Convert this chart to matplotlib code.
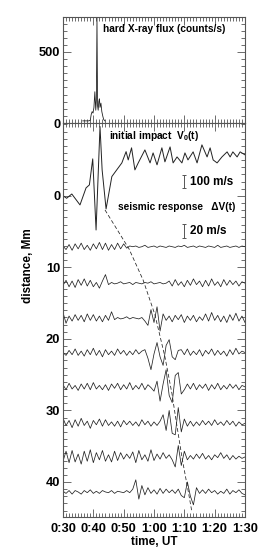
import matplotlib
matplotlib.use('Agg')
import matplotlib.pyplot as plt
import numpy as np
from matplotlib.ticker import MultipleLocator

# data #
########

# hard X-ray flux, counts/s
hxr_t = [36.5, 37.0, 37.5, 38.0, 38.5, 39.0, 39.3, 39.6, 39.9, 40.2, 40.5, 40.8,
         41.0, 41.2, 41.4, 41.6, 41.8, 42.0, 42.2, 42.5, 42.8, 43.1, 43.4, 43.8]
hxr_flux = [15, 15, 15, 15, 15, 20, 60, 80, 70, 110, 220, 90,
            160, 740, 120, 90, 150, 170, 110, 140, 80, 50, 25, 15]

# initial impact V0(t), m/s
v0_t = [30.1, 31.2, 32.9, 35.6, 37.6, 38.7, 39.8, 40.9, 42.2, 42.9, 44.2, 46.1,
        47.7, 49.4, 50.8, 51.5, 52.6, 53.7, 54.8, 57.0, 58.7, 59.7, 61.0, 62.6,
        63.6, 65.3, 66.3, 67.6, 69.2, 70.2, 71.2, 72.9, 74.2, 75.8, 77.5, 78.5,
        79.5, 80.8, 82.4, 84.1, 85.1, 86.0, 87.4, 88.4, 90.0]
v0_vel = [0, -18, 15, -69, 62, 85, 285, -262, 534, 200, -100, 149,
          200, 254, 341, 277, 370, 200, 254, 354, 254, 331, 239, 370,
          262, 377, 254, 300, 254, 331, 277, 339, 254, 393, 300, 370,
          277, 254, 300, 339, 300, 339, 300, 339, 316]

# seismic response dV(t), m/s, one sample per minute from 0:30
trace_dist = [7.1, 12.2, 17.1, 21.9, 26.7, 31.8, 36.5, 41.4]
dv1 = [1, -4, 3, -5, 4, -3, 5, -4, 2, -5, 4, -3, 6, -4, 5, -5, 3, -4, 5, -3, 4, -2, 1,
       0, 1, -1, 0, 2, -1, 0, 1, -1, 1, 0, -1, 1, 0, -1, 1, 0, 2, -1, 0,
       1, -1, 1, 0, -1, 1, 0, -1, 2, -1, 0, 1, -1, 0, 1, -1, 1, 0]
dv2 = [-3, 4, -5, 3, -6, 5, -3, 6, -4, 4, -5, 1,
       -7, 3, 12, -2,
       1, -1, 0, 2, -1, 0, 1, -2, 1, 0, -1, 1, 0, 2, -1, 0, 1, -1, 0,
       3, -4, 5, -3, 2, -5, 4, -3, 6, -2, 3, -5, 4, -4, 6, -3, 2, -5, 5, -3,
       4, -2, 3, -4, 2, 0]
dv3 = [8, -7, 3, -4, 5, -3, 4, -5, 6, -3, 5, -4, 3, -5, 4, -3, 9,
       -2, 1, -1, 0, 2, -1, 1, 0, -1, 1,
       -4, -10, 12, -6, 16, -18, 6, -3,
       3, -5, 4, -2, 5, -6, 3, -3, 4, -5, 2, -3, 6, -4, 8, -3, 4, -5, 3, -6,
       5, -3, 7, -4, 3, -6]
dv4 = [0, -4, 3, -3, 5, -4, 2, -5, 4, -3, 6, -4, 3, -6, 4, -3, 2, -4, 5, -2,
       3, -4, 2, -3, 4, -2, 2,
       4, -8, -24, -2, 14, -6, -18, 10, 18, -6, -10, 3,
       4, -3, 5, -4, 2, -3, 4, -5, 3, -2, 5, -4, 3, -3, 2, -5, 4, -3, 6, -2,
       2, 0]
dv5 = [3, -4, 5, -3, 2, -5, 4, -3, 5, -4, 6, -3, 2, -4, 3, -5, 4, -2, 5, -4,
       3, -3, 6, -4, 2, -3, 5, -4, 3, -1,
       -6, 8, -20, 4, 24, -12, -22, 16, 20, -10, -4,
       4, -3, 5, -4, 3, -2, 4, -5, 3, -3, 5, -4, 2, -3, 4, -2, 3, -4, 2, 0]
dv6 = [7, -3, 4, -6, 5, -4, 7, -3, 3, -7, 4, -2, 6, -4, 5, -3, 2, -4, 3, -5,
       4, -2, 3, -3, 2, -4, 5, -2, 3, -4, 2, -3, 3,
       12, -10, 18, -14, -16, 22, -12, 6, -4,
       3, -4, 2, -3, 4, -2, 3, -3, 5, -2, 2, -3, 4, -2, 3, -4, 2, -2, 0]
dv7 = [-6, 8, -8, 9, -7, 4, -10, 8, -6, 10, -8, 6, -4, 9, -6, 3, -7, 8, -5, 6,
       -3, 4, -2, 7, -8, 9, -4, 3, -6, 10, -5, 4, -3, 6, -2, 3, -4,
       -14, 16, -12, 8, -4, 2,
       -3, 4, -2, 5, -3, 2, -4, 3, -1, 6, -2, 3, -4, 2, -3, 1, -2, 0]
dv8 = [1, -2, 2, -3, 2, 0, -3, 2, -1, 3, -2, 1, -2, 2, 0, -1, 2, -2, 1, 0,
       -1, 2, -1,
       4, 17, -10, 9, -4, 6, -2, 3,
       -3, 5, -2, 4, -1, 3, -2, 4, -5, -8, 14, -6, -18, 6, -2,
       3, -2, 4, -1, 2, -3, 1, -2, 4, -3, 2, -1, 3, -2, -4]
traces = [dv1, dv2, dv3, dv4, dv5, dv6, dv7, dv8]

# travel-time curve (time in min, distance in Mm)
tt_t = [43.85, 51.76, 56.4, 60.3, 63.6, 65.9, 67.5, 69.4, 71.2, 72.5]
tt_d = [1.96, 7.4, 11.75, 16.6, 22.5, 27.6, 32.0, 37.0, 41.1, 44.2]

tick_pos = [30, 40, 50, 60, 70, 80, 90]
tick_lab = ['0:30', '0:40', '0:50', '1:00', '1:10', '1:20', '1:30']

# scales: Mm of plot per m/s
v0_scale = 1.0 / 55.0
dv_scale = 1.0 / 10.0

# style #
#########

plt.rcParams['font.family'] = ['Liberation Sans', 'DejaVu Sans']
plt.rcParams['font.weight'] = 'bold'
plt.rcParams['mathtext.fontset'] = 'custom'
plt.rcParams['mathtext.rm'] = 'Liberation Sans:bold'
plt.rcParams['mathtext.it'] = 'Liberation Sans:bold'
plt.rcParams['mathtext.bf'] = 'Liberation Sans:bold'

axcol = '#555555'
lcol = '#222222'
fs_tick = 9.3
fs_lab = 8.5
fs_note = 7.3

fig = plt.figure(figsize=(2.77, 5.57), dpi=100)
W, H = 277.0, 557.0
x0, x1 = 63 / W, 245 / W
ax1 = fig.add_axes([x0, 1 - 123 / H, x1 - x0, (123 - 17) / H])
ax2 = fig.add_axes([x0, 1 - 517 / H, x1 - x0, (517 - 123) / H])


def style_axis(ax):
    for s in ax.spines.values():
        s.set_color(axcol)
        s.set_linewidth(0.8)
    ax.tick_params(which='both', direction='in', top=True, right=True,
                   color=axcol, width=0.6, labelsize=fs_tick)
    ax.tick_params(which='major', length=6)
    ax.tick_params(which='minor', length=3)
    ax.tick_params(axis='y', pad=2)
    ax.tick_params(axis='x', pad=4)
    ax.xaxis.set_minor_locator(MultipleLocator(1))
    ax.set_xlim(30, 90)


# top panel: hard X-ray flux
style_axis(ax1)
ax1.plot(hxr_t, hxr_flux, color=lcol, lw=0.6)
ax1.set_ylim(0, 746)
ax1.set_yticks([0, 500])
ax1.yaxis.set_minor_locator(MultipleLocator(50))
ax1.set_xticks(tick_pos)
ax1.set_xticklabels([])
ax1.text(43.2, 662, 'hard X-ray flux (counts/s)', fontsize=fs_note,
         va='center', ha='left')

# bottom panel: impact and seismic response
style_axis(ax2)
ax2.set_ylim(44.9, -10.2)
ax2.set_yticks([0, 10, 20, 30, 40])
ax2.yaxis.set_minor_locator(MultipleLocator(1))
ax2.set_xticks(tick_pos)
ax2.set_xticklabels(tick_lab)

ax2.plot(v0_t, -np.array(v0_vel) * v0_scale, color=lcol, lw=0.7)

for d, dv in zip(trace_dist, traces):
    t = 30 + np.arange(len(dv))
    ax2.plot(t, d - np.array(dv) * dv_scale, color=lcol, lw=0.55)

ax2.plot(tt_t, tt_d, color=lcol, lw=0.55, ls=(0, (5, 3)))

# scale bars
for yc, half in [(-2.03, 50 * v0_scale), (4.9, 10 * dv_scale)]:
    ax2.errorbar([70.0], [yc], yerr=[[half], [half]], fmt='none',
                 ecolor=axcol, elinewidth=0.7, capsize=1.5, capthick=0.7)

ax2.text(45.2, -8.4, r'initial impact  V$_0$(t)', fontsize=fs_note,
         va='center', ha='left')
ax2.text(48.1, 1.5, 'seismic response   \u0394V(t)', fontsize=fs_note,
         va='center', ha='left')
ax2.text(72.0, -2.0, '100 m/s', fontsize=fs_lab, va='center', ha='left')
ax2.text(72.0, 4.9, '20 m/s', fontsize=fs_lab, va='center', ha='left')

fig.text(28 / W, 1 - 266 / H, 'distance, Mm', rotation=90, fontsize=fs_lab,
         ha='center', va='center')
fig.text(154 / W, 1 - 542 / H, 'time, UT', fontsize=fs_lab,
         ha='center', va='center')

fig.savefig('out.png', dpi=100)
